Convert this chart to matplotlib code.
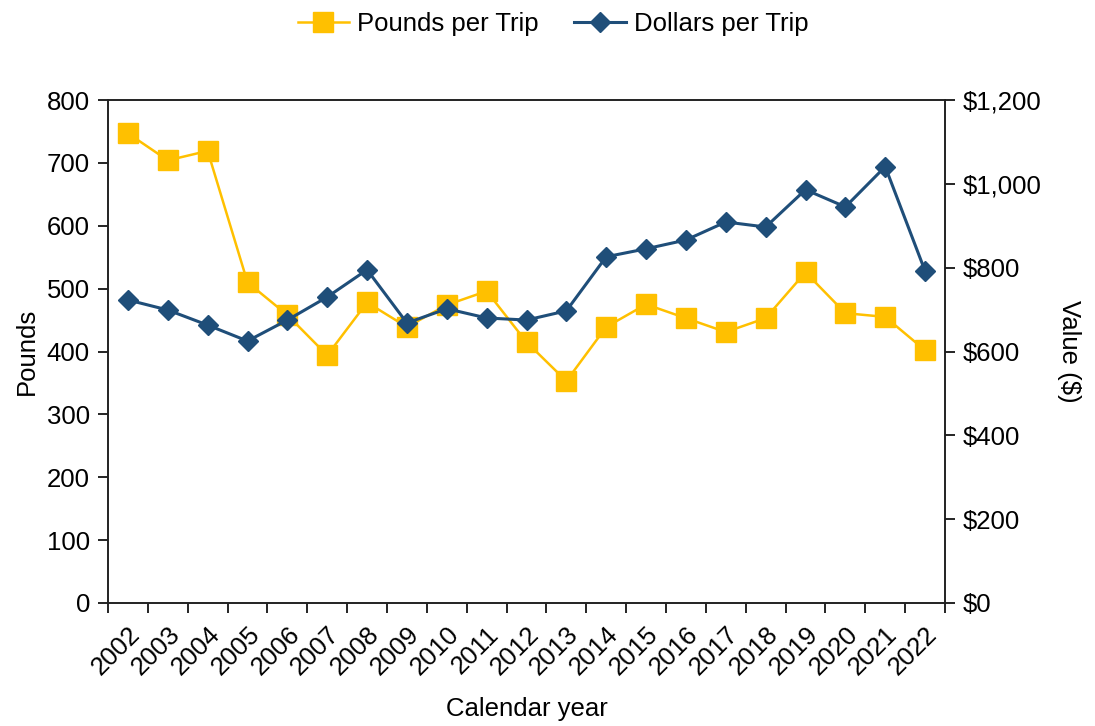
import numpy as np
import matplotlib.pyplot as plt
from matplotlib.ticker import FuncFormatter

plt.rcParams['font.family'] = ['Liberation Sans', 'DejaVu Sans']

years = [str(y) for y in range(2002, 2023)]
pounds_per_trip = [747, 704, 719, 510, 458, 394, 478, 439, 474, 496, 415,
                   353, 439, 475, 453, 431, 453, 526, 461, 455, 402]
dollars_per_trip = [723, 699, 663, 625, 675, 730, 795, 668, 702, 680, 675,
                    697, 826, 845, 866, 909, 897, 986, 945, 1041, 792]

yellow = '#FFC000'
blue = '#1F4E79'
fs = 18.5

fig = plt.figure(figsize=(10.95, 7.26), dpi=100)
ax = fig.add_axes([108 / 1095, 1 - 603 / 726, (945 - 108) / 1095, (603 - 100) / 726])
ax2 = ax.twinx()

x = np.arange(len(years))
l1, = ax.plot(x, pounds_per_trip, color=yellow, marker='s', markersize=15,
              linewidth=1.8, label='Pounds per Trip', zorder=3)
l2, = ax2.plot(x, dollars_per_trip, color=blue, marker='D', markersize=10,
               linewidth=2.2, label='Dollars per Trip', zorder=3)

ax.set_xlim(-0.5, len(years) - 0.5)
ax.set_ylim(0, 800)
ax.set_yticks(range(0, 801, 100))
ax2.set_ylim(0, 1200)
ax2.set_yticks(range(0, 1201, 200))
ax2.yaxis.set_major_formatter(FuncFormatter(lambda v, p: f'${v:,.0f}'))

# ticks between categories, labels at centers
ax.set_xticks(np.arange(-0.5, len(years)), minor=False)
ax.set_xticklabels([])
ax.set_xticks(x, minor=True)
ax.set_xticklabels(years, minor=True, rotation=45, ha='right',
                   rotation_mode='anchor', fontsize=fs)
for lbl in ax.get_xticklabels(minor=True):
    lbl.set_x(lbl.get_position()[0])
ax.tick_params(axis='x', which='minor', length=0, pad=14)
ax.tick_params(axis='x', which='major', length=7, width=1.2, direction='out')
ax.tick_params(axis='y', length=7, width=1.2, direction='out', labelsize=fs, pad=6)
ax2.tick_params(axis='y', length=7, width=1.2, direction='out', labelsize=fs, pad=6)
for a in (ax, ax2):
    for s in a.spines.values():
        s.set_linewidth(1.2)
        s.set_color('#222222')

ax.set_ylabel('Pounds', fontsize=fs, labelpad=6)
ax2.set_ylabel('Value ($)', fontsize=fs, rotation=270, labelpad=28)
ax.set_xlabel('Calendar year', fontsize=fs, labelpad=12)

fig.legend([l1, l2], ['Pounds per Trip', 'Dollars per Trip'], loc='upper center',
           bbox_to_anchor=(0.505, 1.015), ncol=2, frameon=False, fontsize=fs,
           handlelength=2.0, columnspacing=1.4, handletextpad=0.3)

fig.savefig('out.png', dpi=100)
